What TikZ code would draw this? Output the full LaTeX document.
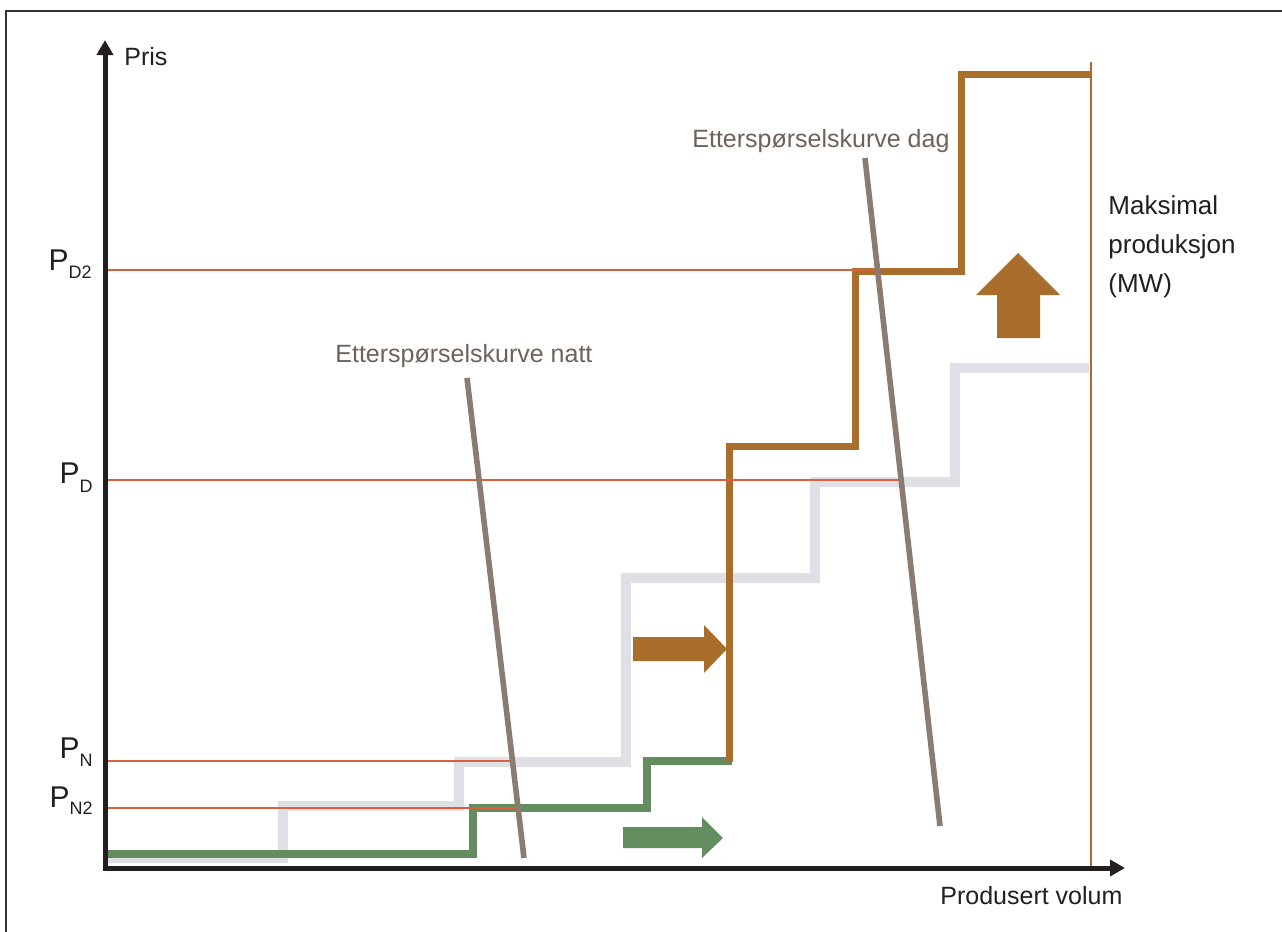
\documentclass[tikz,border=0pt]{standalone}
\usepackage{fontspec}
\setmainfont{Liberation Sans}
\usetikzlibrary{arrows.meta}
\definecolor{axiscol}{HTML}{231F20}
\definecolor{framecol}{HTML}{333333}
\definecolor{graycurve}{HTML}{DFE0E5}
\definecolor{greencurve}{HTML}{638C5F}
\definecolor{browncurve}{HTML}{A96E2C}
\definecolor{redline}{HTML}{D9603C}
\definecolor{demandcol}{HTML}{8B7B70}
\definecolor{demandtext}{HTML}{6E625A}
\definecolor{textcol}{HTML}{231F20}
\begin{document}
\begin{tikzpicture}[x=0.5pt,y=-0.5pt,
  axisline/.style={draw=axiscol,line width=2.5pt,-{Triangle[length=7.5pt,width=8pt]}},
  pricelevel/.style={draw=redline,line width=1pt},
  stepcurve/.style={line cap=butt,line join=miter},
  demand/.style={draw=demandcol,line width=2.8pt},
  plabel/.style={anchor=base east,inner sep=0pt,text=textcol,font=\fontsize{15}{17}\selectfont},
  axlabel/.style={anchor=base west,inner sep=0pt,text=textcol,font=\fontsize{12.5}{15}\selectfont},
  dlabel/.style={anchor=base west,inner sep=0pt,text=demandtext,font=\fontsize{12.5}{15}\selectfont}]
\useasboundingbox (0,0) rectangle (1282,932);
\clip (0,0) rectangle (1282,932);
\fill[white] (0,0) rectangle (1282,932);
% frame
\draw[framecol,line width=1pt] (6,945) -- (6,11) -- (1295,11);

% supply curves
\draw[stepcurve,draw=graycurve,line width=5pt]
  (108,858) -- (283,858) -- (283,806) -- (459,806) -- (459,762) -- (626,762)
  -- (626,578) -- (815,578) -- (815,482) -- (955,482) -- (955,368) -- (1089,368);
\draw[stepcurve,draw=greencurve,line width=4pt]
  (105,854) -- (473,854) -- (473,808) -- (647,808) -- (647,761) -- (732,761);
\draw[stepcurve,draw=browncurve,line width=3.5pt]
  (729,762) -- (729,446) -- (855,446) -- (855,271) -- (961,271) -- (961,74) -- (1091,74);

% maximum production
\coordinate (maxtop) at (1091,62);
\coordinate (maxbot) at (1091,868);
\draw[draw=browncurve,line width=1pt] (maxtop) -- (maxbot);

% price levels
\coordinate (pd2a) at (105,270);  \coordinate (pd2b) at (875,270);
\coordinate (pda) at (105,480);   \coordinate (pdb) at (902,480);
\coordinate (pna) at (105,761);   \coordinate (pnb) at (512,761);
\coordinate (pn2a) at (105,808);  \coordinate (pn2b) at (515,808);
\draw[pricelevel] (pd2a) -- (pd2b);
\draw[pricelevel] (pda) -- (pdb);
\draw[pricelevel] (pna) -- (pnb);
\draw[pricelevel] (pn2a) -- (pn2b);

% demand curves
\coordinate (nighttop) at (467,378); \coordinate (nightbot) at (524,858);
\coordinate (daytop) at (865,158);   \coordinate (daybot) at (940,826);
\draw[demand] (nighttop) -- (nightbot);
\draw[demand] (daytop) -- (daybot);

% block arrows
\fill[browncurve] (633,637) -- (704,637) -- (704,625) -- (727,649) -- (704,673) -- (704,661) -- (633,661) -- cycle;
\fill[greencurve] (623,827) -- (702,827) -- (702,817) -- (723,838) -- (702,858) -- (702,848) -- (623,848) -- cycle;
\fill[browncurve] (997,338) -- (997,295) -- (976,295) -- (1018,253) -- (1060,295) -- (1040,295) -- (1040,338) -- cycle;

% axes
\coordinate (origin) at (105,870);
\coordinate (ytip) at (105,40);
\coordinate (xorigin) at (103,868);
\coordinate (xtip) at (1125,868);
\draw[axisline] (origin) -- (ytip);
\draw[axisline] (xorigin) -- (xtip);

% labels
\node[axlabel] (pris) at (124,65) {Pris};
\node[axlabel] (volum) at (940,904) {Produsert volum};
\node[dlabel] (natt) at (335,362) {Etterspørselskurve natt};
\node[dlabel] (dag) at (692,147) {Etterspørselskurve dag};
\node[anchor=north west,inner sep=0pt,align=left,text=textcol,font=\fontsize{13}{19.5}\selectfont] (maks) at (1108,195) {Maksimal\\produksjon\\(MW)};

\node[plabel] (lpd2) at (92,270) {P\raisebox{-4pt}{\fontsize{9}{10}\selectfont D2}};
\node[plabel] (lpd) at (93,483) {P\raisebox{-4.5pt}{\fontsize{9}{10}\selectfont D}};
\node[plabel] (lpn) at (93,758) {P\raisebox{-4pt}{\fontsize{9}{10}\selectfont N}};
\node[plabel] (lpn2) at (93,807) {P\raisebox{-3.5pt}{\fontsize{9}{10}\selectfont N2}};
\end{tikzpicture}
\end{document}
